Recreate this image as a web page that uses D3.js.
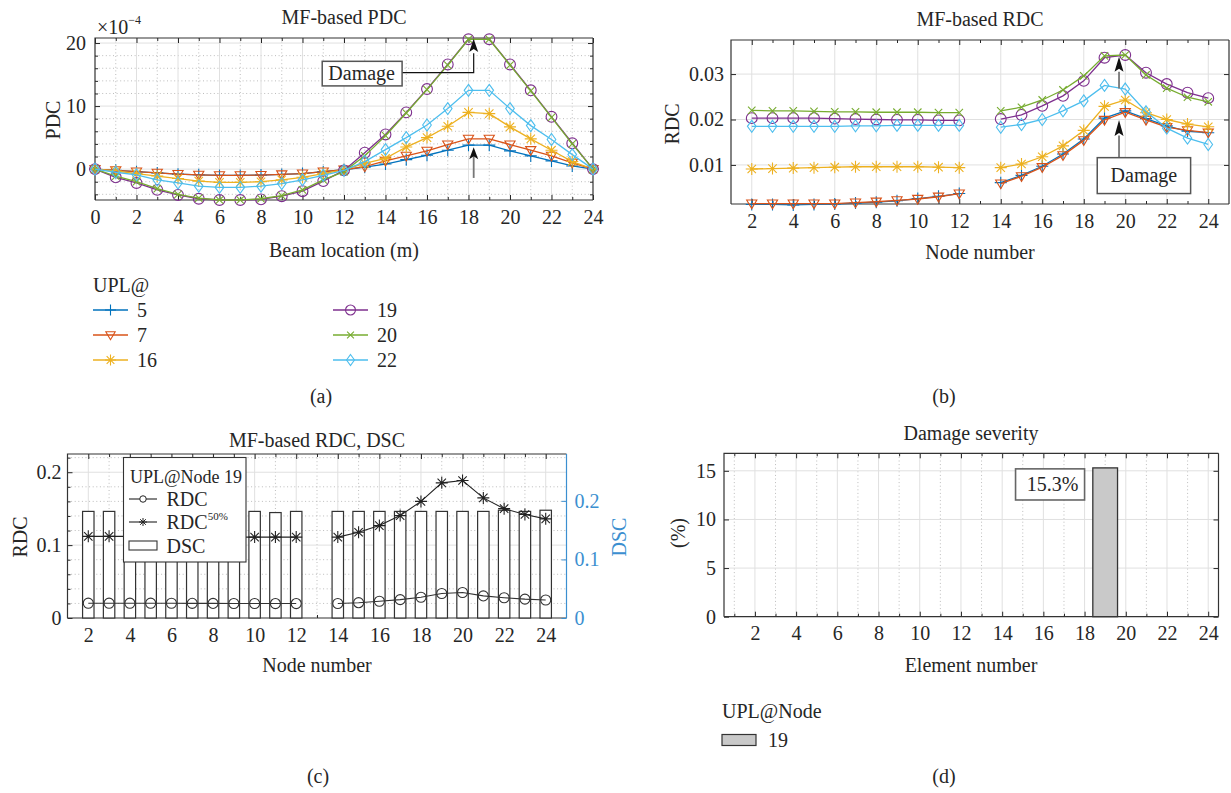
<!DOCTYPE html>
<html><head><meta charset="utf-8">
<script src="https://cdn.jsdelivr.net/npm/d3@7"></script>
<style>
body{margin:0;background:#fff}
svg{display:block}
text{font-family:"Liberation Serif","Times New Roman",serif;fill:#262626}
.gmaj{stroke:#e0e0e0;stroke-width:1}
.gmin{stroke:#bcbcbc;stroke-width:1;stroke-dasharray:1,2.6}
</style>
</head><body>
<svg id="c" width="1231" height="793"></svg>
<script>
// ---------------- DATA ----------------
const beamLoc = [0,1,2,3,4,5,6,7,8,9,10,11,12,13,14,15,16,17,18,19,20,21,22,23,24];
const uplNodes = [5,7,16,19,20,22];
const pdc5  = [0,-0.2,-0.4,-0.6,-0.8,-0.9,-1.0,-1.0,-0.95,-0.85,-0.7,-0.4,-0.1,0.3,0.8,1.5,2.2,3.0,3.8,3.8,2.9,2.1,1.3,0.5,0];
const pdc7  = [0,-0.2,-0.4,-0.6,-0.8,-0.9,-1.0,-1.0,-0.95,-0.85,-0.7,-0.4,-0.1,0.4,1.3,2.1,2.9,3.9,4.8,4.8,3.9,3.0,2.1,1.0,0];
const pdc16 = [0,-0.3,-0.7,-1.1,-1.5,-1.9,-2.1,-2.1,-2.0,-1.7,-1.3,-0.7,-0.1,0.9,1.7,3.5,5.0,6.8,9.0,8.8,6.7,4.8,3.0,1.2,0];
const pdc19 = [0,-1.3,-2.2,-3.3,-4.1,-4.7,-4.9,-4.9,-4.8,-4.3,-3.5,-1.9,-0.2,2.6,5.5,9.0,12.7,16.6,20.6,20.6,16.6,12.5,8.3,4.1,0];
const pdc20 = [0,-1.1,-2.0,-3.1,-4.0,-4.6,-4.9,-4.9,-4.7,-4.2,-3.3,-1.7,-0.4,2.1,5.3,8.9,12.6,16.5,20.6,20.6,16.5,12.4,8.2,4.0,0];
const pdc22 = [0,-0.5,-0.9,-1.7,-2.2,-2.7,-2.9,-2.9,-2.7,-2.3,-1.7,-1.0,-0.2,1.2,3.1,5.0,7.0,9.6,12.5,12.5,9.6,6.9,4.7,2.3,0];

const nodeNums = [2,3,4,5,6,7,8,9,10,11,12,13,14,15,16,17,18,19,20,21,22,23,24];
const rdc5  = [0.0013,0.0013,0.0012,0.0013,0.0014,0.0016,0.0018,0.0021,0.0026,0.0031,0.0037,null,0.0061,0.0077,0.0097,0.0124,0.0157,0.0203,0.0219,0.0202,0.0186,0.0174,0.0171];
const rdc7  = [0.0015,0.0015,0.0015,0.0015,0.0015,0.0017,0.0019,0.0022,0.0025,0.0030,0.0037,null,0.0059,0.0075,0.0095,0.0121,0.0154,0.0199,0.0216,0.0199,0.0183,0.0176,0.0171];
const rdc16 = [0.0091,0.0092,0.0093,0.0094,0.0095,0.0096,0.0096,0.0096,0.0096,0.0095,0.0094,null,0.0094,0.0102,0.0118,0.0142,0.0176,0.0229,0.0243,0.0215,0.0200,0.0190,0.0184];
const rdc19 = [0.0203,0.0203,0.0203,0.0203,0.0202,0.0201,0.0200,0.0199,0.0199,0.0198,0.0198,null,0.0201,0.0210,0.0230,0.0252,0.0285,0.0336,0.0342,0.0303,0.0278,0.0259,0.0247];
const rdc20 = [0.0220,0.0219,0.0219,0.0218,0.0217,0.0217,0.0216,0.0216,0.0216,0.0215,0.0215,null,0.0219,0.0227,0.0243,0.0265,0.0296,0.0340,0.0342,0.0298,0.0269,0.0249,0.0239];
const rdc22 = [0.0185,0.0185,0.0185,0.0185,0.0185,0.0186,0.0186,0.0187,0.0187,0.0187,0.0187,null,0.0183,0.0189,0.0200,0.0219,0.0241,0.0275,0.0267,0.0217,0.0181,0.0159,0.0145];

const rdcNode19   = [0.0203,0.0203,0.0203,0.0203,0.0202,0.0201,0.0200,0.0199,0.0199,0.0198,0.0198,null,0.0199,0.0210,0.0230,0.0252,0.0285,0.0336,0.0350,0.0303,0.0278,0.0259,0.0247];
const rdc50Node19 = [0.112,0.112,0.112,0.112,0.112,0.111,0.111,0.111,0.111,0.111,0.111,null,0.111,0.1176,0.1268,0.1405,0.160,0.1854,0.1886,0.1648,0.150,0.142,0.136];
const dscNode19   = [0.182,0.182,0.182,0.182,0.182,0.182,0.182,0.182,0.182,0.180,0.182,null,0.182,0.182,0.182,0.182,0.182,0.182,0.182,0.182,0.184,0.182,0.184];

const elements = [1,2,3,4,5,6,7,8,9,10,11,12,13,14,15,16,17,18,19,20,21,22,23,24];
const severity = [0,0,0,0,0,0,0,0,0,0,0,0,0,0,0,0,0,0,15.3,0,0,0,0,0];

const evenTicks = [2,4,6,8,10,12,14,16,18,20,22,24];
const oddTicks  = [1,3,5,7,9,11,13,15,17,19,21,23,25];

// ---------------- HELPERS ----------------
const svg = d3.select('#c');
const FONT = '"Liberation Serif","Times New Roman",serif';
const FS = 20;
const colors = ['#0072BD','#D95319','#EDB120','#7E2F8E','#77AC30','#4DBEEE'];
const markers = ['plus','tri','star','circle','x','diamond'];

function markerPath(t, s){
  switch(t){
    case 'plus': return `M${-s},0H${s}M0,${-s}V${s}`;
    case 'x': {const a=s*0.62; return `M${-a},${-a}L${a},${a}M${-a},${a}L${a},${-a}`;}
    case 'star': {const a=s*0.7; return `M${-s},0H${s}M0,${-s}V${s}M${-a},${-a}L${a},${a}M${-a},${a}L${a},${-a}`;}
    case 'tri': return `M${-s*0.85},${-s*0.6}L${s*0.85},${-s*0.6}L0,${s*0.85}Z`;
    case 'diamond': return `M0,${-s}L${s*0.72},0L0,${s}L${-s*0.72},0Z`;
    case 'circle': { const r=s*0.9; return `M${r},0A${r},${r},0,1,1,${-r},0A${r},${r},0,1,1,${r},0Z`; }
  }
}

function txt(x,y,s,opt={}){
  const t = svg.append('text').attr('x',x).attr('y',y).attr('dominant-baseline','central')
    .attr('text-anchor',opt.anchor||'middle').attr('font-size',opt.size||FS).text(s);
  if(opt.rotate) t.attr('transform',`rotate(-90,${x},${y})`);
  if(opt.fill) t.style('fill',opt.fill);
  return t;
}

function panel(o){
  const g = svg.append('g');
  const [xl,xr] = o.x.range(), [yb,yt] = o.y.range();
  g.append('rect').attr('x',xl).attr('y',yt).attr('width',xr-xl).attr('height',yb-yt).attr('fill','#fff');
  const gr = g.append('g');
  (o.gxMin||[]).forEach(v=>{ if(v>o.x.domain()[0]&&v<o.x.domain()[1]) gr.append('line').attr('class','gmin').attr('x1',o.x(v)).attr('x2',o.x(v)).attr('y1',yt).attr('y2',yb);});
  (o.gyMin||[]).forEach(v=>{ gr.append('line').attr('class','gmin').attr('y1',o.y(v)).attr('y2',o.y(v)).attr('x1',xl).attr('x2',xr);});
  (o.gxMaj||[]).forEach(v=>{ gr.append('line').attr('class','gmaj').attr('x1',o.x(v)).attr('x2',o.x(v)).attr('y1',yt).attr('y2',yb);});
  (o.gyMaj||[]).forEach(v=>{ gr.append('line').attr('class','gmaj').attr('y1',o.y(v)).attr('y2',o.y(v)).attr('x1',xl).attr('x2',xr);});
  const style = s => s.attr('font-family',FONT).attr('font-size',FS).attr('color','#262626')
      .call(q=>q.select('.domain').remove()).call(q=>q.selectAll('.tick line').attr('stroke-width',1));
  const none = ()=>'';
  g.append('g').attr('transform',`translate(0,${yb})`).call(d3.axisBottom(o.x).tickValues(o.xMaj).tickSizeInner(-5).tickSizeOuter(0).tickPadding(o.xPad).tickFormat(o.xFmt)).call(style);
  g.append('g').attr('transform',`translate(0,${yt})`).call(d3.axisTop(o.x).tickValues(o.xMaj).tickSizeInner(-5).tickSizeOuter(0).tickFormat(none)).call(style);
  if(o.xMin){
    const mv = o.xMin.filter(v=>v>o.x.domain()[0]&&v<o.x.domain()[1]);
    g.append('g').attr('transform',`translate(0,${yb})`).call(d3.axisBottom(o.x).tickValues(mv).tickSizeInner(-3).tickSizeOuter(0).tickFormat(none)).call(style);
    g.append('g').attr('transform',`translate(0,${yt})`).call(d3.axisTop(o.x).tickValues(mv).tickSizeInner(-3).tickSizeOuter(0).tickFormat(none)).call(style);
  }
  g.append('g').attr('transform',`translate(${xl},0)`).call(d3.axisLeft(o.y).tickValues(o.yMaj).tickSizeInner(-5).tickSizeOuter(0).tickPadding(o.yPad).tickFormat(o.yFmt)).call(style);
  if(!o.yR){
    g.append('g').attr('transform',`translate(${xr},0)`).call(d3.axisRight(o.y).tickValues(o.yMaj).tickSizeInner(-5).tickSizeOuter(0).tickFormat(none)).call(style);
  }
  if(o.yMin){
    g.append('g').attr('transform',`translate(${xl},0)`).call(d3.axisLeft(o.y).tickValues(o.yMin).tickSizeInner(-3).tickSizeOuter(0).tickFormat(none)).call(style);
    if(!o.yR) g.append('g').attr('transform',`translate(${xr},0)`).call(d3.axisRight(o.y).tickValues(o.yMin).tickSizeInner(-3).tickSizeOuter(0).tickFormat(none)).call(style);
  }
  g.append('path').attr('d',`M${xl},${yb}V${yt}H${xr}`).attr('fill','none').attr('stroke','#333').attr('stroke-width',1.2);
  g.append('path').attr('d',`M${xl},${yb}H${xr}`).attr('fill','none').attr('stroke','#333').attr('stroke-width',1.2);
  g.append('path').attr('d',`M${xr},${yt}V${yb}`).attr('fill','none').attr('stroke',o.yR?o.yRColor:'#333').attr('stroke-width',1.2);
  if(o.yR){
    const ra = g.append('g').attr('transform',`translate(${xr},0)`).call(d3.axisRight(o.yR).tickValues(o.yRMaj).tickSizeInner(-5).tickSizeOuter(0).tickPadding(o.yRPad).tickFormat(o.yFmt)).call(style);
    ra.attr('color',o.yRColor);
    ra.selectAll('text').style('fill',o.yRColor);
  }
  return g;
}

function series(g, x, y, xs, ys, color, mk, size, lw){
  const pts = xs.map((v,i)=>[v,ys[i]]);
  const line = d3.line().defined(d=>d[1]!==null).x(d=>x(d[0])).y(d=>y(d[1]));
  g.append('path').attr('d',line(pts)).attr('fill','none').attr('stroke',color).attr('stroke-width',lw||1.3);
  pts.filter(d=>d[1]!==null).forEach(d=>{
    g.append('path').attr('d',markerPath(mk,size)).attr('transform',`translate(${x(d[0])},${y(d[1])})`)
      .attr('fill','none').attr('stroke',color).attr('stroke-width',1.1);
  });
}

function arrowHead(g, x, yTip, len, color){
  g.append('path').attr('d',`M${x},${yTip}L${x-4.5},${yTip+len}L${x},${yTip+len-3}L${x+4.5},${yTip+len}Z`).attr('fill',color||'#111');
}

const fmtInt = d3.format('d');
const fmtDec = v => v===0 ? '0' : d3.format('.1f')(v);

// ---------------- PANEL A ----------------
const xA = d3.scaleLinear().domain([0,24]).range([95,593]);
const yA = d3.scaleLinear().domain([-4.9,20.8]).range([200,38]);
const gA = panel({x:xA,y:yA,xMaj:[0,2,4,6,8,10,12,14,16,18,20,22,24],xMin:oddTicks,yMaj:[0,10,20],
  yMin:[-4,-2,2,4,6,8,12,14,16,18],gxMaj:[2,4,6,8,10,12,14,16,18,20,22],gxMin:oddTicks,gyMaj:[0,10,20],
  gyMin:[-4,-2,2,4,6,8,12,14,16,18],xPad:10,yPad:9,xFmt:fmtInt,yFmt:fmtInt});
const pdcAll=[pdc5,pdc7,pdc16,pdc19,pdc20,pdc22];
pdcAll.forEach((s,i)=>series(gA,xA,yA,beamLoc,s,colors[i],markers[i],6));
const axA = xA(18.25);
gA.append('path').attr('d',`M${xA(14.8)},${yA(15.3)}H${axA}V${yA(18.4)}`).attr('fill','none').attr('stroke','#111').attr('stroke-width',1.2);
arrowHead(gA, axA, yA(20.65), 13);
gA.append('rect').attr('x',xA(10.95)).attr('y',yA(17.1)).attr('width',xA(14.8)-xA(10.95)).attr('height',yA(13.2)-yA(17.1)).attr('fill','#fff').attr('stroke','#555').attr('stroke-width',1.5);
txt(xA(12.85), yA(15.3), 'Damage');
gA.append('line').attr('x1',axA).attr('x2',axA).attr('y1',yA(-1.4)).attr('y2',yA(2.4)).attr('stroke','#777').attr('stroke-width',1.8);
arrowHead(gA, axA, yA(3.45), 12);
txt(344,17,'MF-based PDC');
const mult = svg.append('text').attr('x',97).attr('y',27).attr('dominant-baseline','central').attr('font-size',FS);
mult.append('tspan').text('×10');
mult.append('tspan').attr('font-size',12).attr('dy',-7).text('−4');
txt(53,120,'PDC',{rotate:true});
txt(344,250,'Beam location (m)');

txt(93,285,'UPL@',{anchor:'start'});
const legPos = [[93,310],[93,335],[93,360],[333,310],[333,335],[333,360]];
uplNodes.forEach((n,i)=>{
  const [lx,ly]=legPos[i];
  svg.append('line').attr('x1',lx).attr('x2',lx+35).attr('y1',ly).attr('y2',ly).attr('stroke',colors[i]).attr('stroke-width',1.3);
  svg.append('path').attr('d',markerPath(markers[i],5.5)).attr('transform',`translate(${lx+17.5},${ly})`).attr('fill','none').attr('stroke',colors[i]).attr('stroke-width',1.1);
  txt(lx+44,ly,String(n),{anchor:'start'});
});
txt(321,396,'(a)');

// ---------------- PANEL B ----------------
const xB = d3.scaleLinear().domain([1,25]).range([731,1229]);
const yB = d3.scaleLinear().domain([0.0014,0.0375]).range([204,40]);
const gB = panel({x:xB,y:yB,xMaj:evenTicks,xMin:oddTicks,yMaj:[0.01,0.02,0.03],gxMaj:evenTicks,gyMaj:[0.01,0.02,0.03],
  xPad:10,yPad:7,xFmt:fmtInt,yFmt:d3.format('.2f')});
[rdc5,rdc7,rdc16,rdc19,rdc20,rdc22].forEach((s,i)=>series(gB,xB,yB,nodeNums,s,colors[i],markers[i],6));
const axB = xB(19.7);
gB.append('line').attr('x1',axB).attr('x2',axB).attr('y1',yB(0.0268)).attr('y2',yB(0.0305)).attr('stroke','#777').attr('stroke-width',1.8);
arrowHead(gB, axB, yB(0.0338), 15);
gB.append('line').attr('x1',axB).attr('x2',axB).attr('y1',yB(0.0116)).attr('y2',yB(0.0165)).attr('stroke','#777').attr('stroke-width',1.8);
arrowHead(gB, axB, yB(0.0199), 16);
gB.append('rect').attr('x',xB(18.65)).attr('y',yB(0.0116)).attr('width',xB(23.15)-xB(18.65)).attr('height',yB(0.0037)-yB(0.0116)).attr('fill','#fff').attr('stroke','#555').attr('stroke-width',1.5);
txt(xB(20.9), yB(0.0078), 'Damage');
txt(980,19,'MF-based RDC');
txt(672,124,'RDC',{rotate:true});
txt(980,252,'Node number');
txt(944,396,'(b)');

// ---------------- PANEL C ----------------
const blueAx = '#3b8fd0';
const xC = d3.scaleLinear().domain([1,25]).range([67.5,566.5]);
const yC = d3.scaleLinear().domain([0,0.225]).range([618,454]);
const yC2 = d3.scaleLinear().domain([0,0.28]).range([618,454]);
const gyCmin = [0.02,0.04,0.06,0.08,0.12,0.14,0.16,0.18,0.22];
const gC = panel({x:xC,y:yC,xMaj:evenTicks,xMin:oddTicks,yMaj:[0,0.1,0.2],yMin:gyCmin,gxMaj:evenTicks,gxMin:oddTicks,
  gyMaj:[0.1,0.2],gyMin:gyCmin,xPad:10,yPad:6,xFmt:fmtInt,yFmt:fmtDec,
  yR:yC2,yRMaj:[0,0.1,0.2],yRPad:8,yRColor:blueAx});
const bw = xC(1.55)-xC(1);
nodeNums.forEach((n,i)=>{
  if(dscNode19[i]===null) return;
  gC.append('rect').attr('x',xC(n)-bw/2).attr('y',yC2(dscNode19[i])).attr('width',bw).attr('height',yC2(0)-yC2(dscNode19[i]))
    .attr('fill','#fff').attr('stroke','#333').attr('stroke-width',1.2);
});
series(gC,xC,yC,nodeNums,rdcNode19,'#333','circle',5.6,1.1);
series(gC,xC,yC,nodeNums,rdc50Node19,'#222','star',6,1.1);
const lg = svg.append('g');
lg.append('rect').attr('x',123.5).attr('y',457.5).attr('width',122.5).attr('height',104.5).attr('fill','#fff').attr('stroke','#333').attr('stroke-width',1.1);
txt(130,477,'UPL@Node 19',{anchor:'start',size:18});
lg.append('line').attr('x1',129).attr('x2',157).attr('y1',499).attr('y2',499).attr('stroke','#222').attr('stroke-width',1.1);
lg.append('path').attr('d',markerPath('circle',3.6)).attr('transform','translate(143,499)').attr('fill','#fff').attr('stroke','#222');
txt(166.5,499,'RDC',{anchor:'start'});
lg.append('line').attr('x1',129).attr('x2',157).attr('y1',522).attr('y2',522).attr('stroke','#222').attr('stroke-width',1.1);
lg.append('path').attr('d',markerPath('star',4)).attr('transform','translate(143,522)').attr('fill','none').attr('stroke','#222');
const r50 = svg.append('text').attr('x',166.5).attr('y',522).attr('dominant-baseline','central').attr('font-size',FS);
r50.append('tspan').text('RDC');
r50.append('tspan').attr('font-size',11).attr('dy',-6).text('50%');
lg.append('rect').attr('x',129).attr('y',541).attr('width',28).attr('height',9).attr('fill','#fff').attr('stroke','#333').attr('stroke-width',1.1);
txt(166.5,546,'DSC',{anchor:'start'});
txt(317,440,'MF-based RDC, DSC');
txt(20,537,'RDC',{rotate:true});
txt(619,537,'DSC',{rotate:true,fill:blueAx});
txt(317,665,'Node number');
txt(318,776,'(c)');

// ---------------- PANEL D ----------------
const xD = d3.scaleLinear().domain([0.5,24.5]).range([724,1218.5]);
const yD = d3.scaleLinear().domain([0,16.8]).range([616.7,453.3]);
const gD = panel({x:xD,y:yD,xMaj:evenTicks,xMin:oddTicks.slice(0,12),yMaj:[0,5,10,15],gxMaj:evenTicks,gxMin:oddTicks.slice(0,12),
  gyMaj:[5,10,15],xPad:9,yPad:8,xFmt:fmtInt,yFmt:fmtInt});
elements.forEach((e,i)=>{
  if(severity[i]<=0) return;
  gD.append('rect').attr('x',xD(e-0.6)).attr('y',yD(severity[i])).attr('width',xD(e+0.6)-xD(e-0.6)).attr('height',yD(0)-yD(severity[i]))
    .attr('fill','#c9c9c9').attr('stroke','#333').attr('stroke-width',1.3);
});
gD.append('rect').attr('x',xD(14.65)).attr('y',yD(15.2)).attr('width',xD(18)-xD(14.65)).attr('height',yD(12)-yD(15.2)).attr('fill','#fff').attr('stroke','#666').attr('stroke-width',1.6);
txt(xD(16.35)+2, yD(13.6), '15.3%');
txt(971,433,'Damage severity');
txt(678,533,'(%)',{rotate:true});
txt(971,665,'Element number');
txt(722,711,'UPL@Node',{anchor:'start'});
svg.append('rect').attr('x',722).attr('y',734.5).attr('width',34).attr('height',11).attr('fill','#c9c9c9').attr('stroke','#333').attr('stroke-width',1.2);
txt(768,740,'19',{anchor:'start'});
txt(944,776,'(d)');
</script>
</body></html>
